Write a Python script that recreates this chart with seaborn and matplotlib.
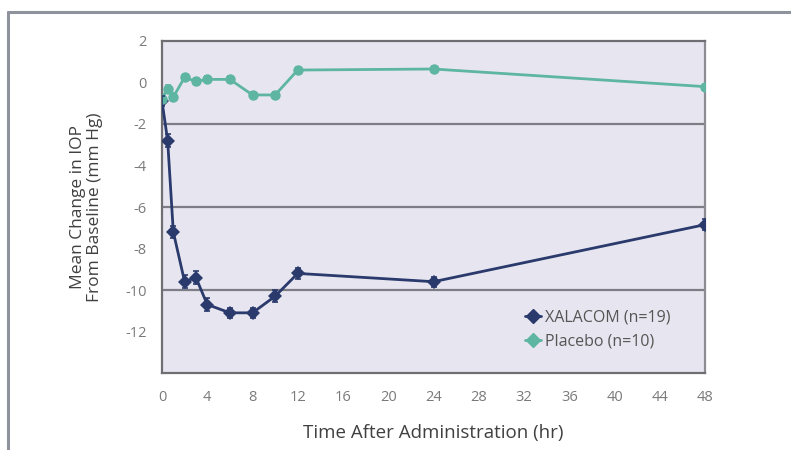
import matplotlib
matplotlib.use("Agg")
import matplotlib.pyplot as plt
from matplotlib.lines import Line2D
import seaborn as sns
import pandas as pd

# Mean change in IOP (mm Hg) by hours after administration
xal_hours = [0, 0.5, 1, 2, 3, 4, 6, 8, 10, 12, 24, 48]
xal_change = [-0.9, -2.8, -7.2, -9.6, -9.4, -10.7, -11.1, -11.1, -10.3, -9.2, -9.6, -6.85]
xal_err = [0.25, 0.3, 0.3, 0.3, 0.3, 0.3, 0.25, 0.25, 0.3, 0.25, 0.25, 0.25]

pla_hours = [0, 0.5, 1, 2, 3, 4, 6, 8, 10, 12, 24, 48]
pla_change = [-0.8, -0.3, -0.7, 0.25, 0.05, 0.15, 0.15, -0.6, -0.6, 0.6, 0.65, -0.2]
pla_err = [0.25, 0.2, 0.2, 0.15, 0.15, 0.15, 0.15, 0.15, 0.15, 0.15, 0.15, 0.15]

series_labels = ["XALACOM (n=19)", "Placebo (n=10)"]
x_ticks = list(range(0, 49, 4))
y_ticks = [2, 0, -2, -4, -6, -8, -10, -12]
grid_levels = [-2, -6, -10]

navy = "#2b3a6c"
teal = "#5db5a2"
text_grey = "#7a7a7a"

sns.set_theme(style="white")
plt.rcParams["font.family"] = ["Open Sans", "DejaVu Sans"]

df = pd.concat([
    pd.DataFrame({"hours": xal_hours, "change": xal_change, "group": series_labels[0]}),
    pd.DataFrame({"hours": pla_hours, "change": pla_change, "group": series_labels[1]}),
])

fig = plt.figure(figsize=(7.91, 4.5), dpi=100)
ax = fig.add_axes([0.2048, 0.1711, 0.6865, 0.7378])
ax.set_facecolor("#e7e6f0")

# horizontal reference lines
for g in grid_levels:
    ax.axhline(g, color="#7d7d85", lw=1.6, zorder=1)

sns.lineplot(data=df, x="hours", y="change", hue="group", style="group",
             markers={series_labels[0]: "D", series_labels[1]: "o"}, dashes=False,
             palette={series_labels[0]: navy, series_labels[1]: teal},
             markersize=7.5, markeredgewidth=0, linewidth=2, ax=ax, legend=False,
             zorder=3)
ax.errorbar(xal_hours, xal_change, yerr=xal_err, fmt="none", ecolor=navy,
            elinewidth=1.2, capsize=2.5, capthick=1.2, zorder=4)
ax.errorbar(pla_hours, pla_change, yerr=pla_err, fmt="none", ecolor=teal,
            elinewidth=1.2, capsize=2.5, capthick=1.2, zorder=2)

ax.set_xlim(0, 48)
ax.set_ylim(-14, 2)
ax.set_xticks(x_ticks)
ax.set_yticks(y_ticks)
ax.set_xticklabels([str(t) for t in x_ticks])
ax.set_yticklabels([str(t) for t in y_ticks])
ax.tick_params(axis="both", colors="#6e6e6e", labelcolor=text_grey, labelsize=10.5,
               length=5, width=1.2, direction="out", pad=6)
ax.tick_params(axis="x", direction="inout", length=8, pad=8)

for side in ["left", "bottom", "top", "right"]:
    ax.spines[side].set_visible(True)
    ax.spines[side].set_color("#6e6e73")
    ax.spines[side].set_linewidth(1.6)
ax.spines["right"].set_color("#8c8c92")

ax.set_xlabel("Time After Administration (hr)", fontsize=13.5, color="#404040",
              labelpad=14)
ax.set_ylabel("Mean Change in IOP\nFrom Baseline (mm Hg)", fontsize=12.5,
              color="#404040", labelpad=16, linespacing=1.1)

handles = [
    Line2D([], [], color=navy, marker="D", markersize=7, lw=2),
    Line2D([], [], color=teal, marker="D", markersize=7, lw=2),
]
leg = ax.legend(handles, series_labels, loc="center left",
                bbox_to_anchor=(0.668, 0.131), frameon=False, fontsize=11.5,
                handlelength=1.0, handletextpad=0.3, labelspacing=0.5,
                borderpad=0, borderaxespad=0)
for t in leg.get_texts():
    t.set_color("#555555")

# outer frame around the figure panel
fig.add_artist(Line2D([8 / 791, 1.0], [1 - 12 / 450, 1 - 12 / 450],
                      transform=fig.transFigure, color="#8e929c", lw=2.2))
fig.add_artist(Line2D([8 / 791, 8 / 791], [0, 1 - 12 / 450],
                      transform=fig.transFigure, color="#8e929c", lw=2.2))

fig.savefig("out.png", dpi=100)
